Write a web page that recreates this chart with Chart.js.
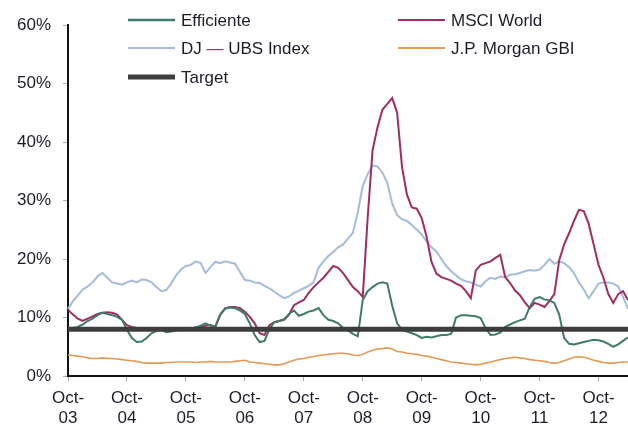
<!DOCTYPE html>
<html>
<head>
<meta charset="utf-8">
<script src="https://cdn.jsdelivr.net/npm/chart.js@4.4.1/dist/chart.umd.min.js"></script>
<style>
  body { margin: 0; background: #fff; }
  #wrap { width: 628px; height: 427px; position: relative; }
</style>
</head>
<body>
<div id="wrap"><canvas id="chart"></canvas></div>
<script>
// monthly observations, Oct-03 .. Apr-13
const START_YEAR = 2003;
const MONTHS = ['Oct', 'Nov', 'Dec', 'Jan', 'Feb', 'Mar', 'Apr', 'May', 'Jun', 'Jul', 'Aug', 'Sep'];
const TICK_YEARS = ['03', '04', '05', '06', '07', '08', '09', '10', '11', '12'];

const efficiente = [
  8.0, 8.2, 8.4, 8.8, 9.4, 9.8, 10.4, 10.8, 10.6, 10.4, 10.1, 9.6,
  7.9, 6.5, 5.8, 5.9, 6.5, 7.3, 7.7, 7.9, 7.5, 7.6, 7.8, 7.9,
  8.0, 8.1, 8.3, 8.6, 9.0, 8.6, 8.5, 10.5, 11.6, 11.7, 11.6, 11.2,
  10.6, 9.0, 7.0, 5.8, 6.0, 8.0, 9.2, 9.4, 9.7, 10.6, 11.2, 10.3,
  10.6, 11.0, 11.2, 11.6, 10.4, 9.6, 9.4, 9.0, 8.2, 7.8, 7.2, 6.8,
  13.0, 14.5, 15.2, 15.8, 16.0, 15.8, 12.0, 9.0, 7.9, 7.6, 7.3, 7.0,
  6.5, 6.7, 6.6, 6.8, 7.0, 7.0, 7.2, 10.0, 10.4, 10.4, 10.3, 10.2,
  9.9, 8.2, 7.0, 7.1, 7.4, 8.4, 8.8, 9.2, 9.5, 9.8, 11.8, 13.2,
  13.5, 13.1, 12.9, 12.5, 10.5, 6.5, 5.5, 5.4, 5.6, 5.8, 6.0, 6.2,
  6.1, 5.9, 5.5, 5.0, 5.4, 6.0, 6.6
];

const msciWorld = [
  11.3, 10.5, 9.8, 9.4, 9.8, 10.2, 10.6, 10.8, 10.9, 10.8, 10.5, 9.6,
  8.7, 8.4, 8.2, 8.0, 8.1, 8.0, 7.9, 8.0, 7.9, 8.0, 8.0, 8.1,
  8.0, 8.1, 8.3, 8.4, 8.6, 8.7, 8.4, 10.5, 11.5, 11.8, 11.8, 11.6,
  11.0, 10.1, 9.0, 7.3, 7.0, 8.7, 9.2, 9.4, 9.6, 10.5, 12.1, 12.6,
  13.0, 14.2, 15.2, 16.0, 16.8, 17.8, 18.8, 18.5, 17.6, 16.4, 15.2, 14.5,
  13.5, 27.0, 38.6, 42.5, 45.5, 46.5, 47.5, 45.0, 35.7, 31.0, 28.8, 28.6,
  27.0, 23.8, 19.5, 17.5, 16.9, 16.6, 16.3, 15.8, 15.4, 14.5, 13.3, 18.0,
  19.0, 19.3, 19.6, 20.2, 20.7, 16.9, 15.9, 14.6, 13.8, 12.6, 11.6, 12.5,
  12.2, 11.8, 12.8, 14.0, 19.8, 22.5, 24.4, 26.5, 28.4, 28.2, 26.0, 22.5,
  19.0, 16.8, 14.0, 12.5, 14.0, 14.5, 13.0
];

const djUbs = [
  11.5, 12.8, 13.8, 14.8, 15.3, 16.0, 17.0, 17.6, 16.8, 16.0, 15.8, 15.6,
  16.0, 16.3, 16.0, 16.5, 16.4, 16.0, 15.2, 14.5, 14.7, 15.8, 17.2, 18.2,
  18.8, 19.0, 19.6, 19.3, 17.6, 18.6, 19.5, 19.3, 19.6, 19.4, 19.2, 17.8,
  16.4, 16.3, 16.0, 15.9, 15.4, 15.0, 14.4, 13.8, 13.3, 13.6, 14.2, 14.6,
  15.0, 15.4, 16.0, 18.5, 19.6, 20.5, 21.2, 22.0, 22.5, 23.5, 24.5, 28.0,
  32.5, 34.5, 36.0, 35.8, 34.8, 33.0, 29.5, 27.5, 26.8, 26.5, 25.8, 25.0,
  24.2, 23.0, 22.0, 21.3, 20.0, 18.8, 17.9, 17.2, 16.5, 16.2, 16.0, 15.6,
  15.3, 16.2, 16.8, 16.6, 17.0, 16.9, 17.3, 17.4, 17.6, 17.9, 18.1, 18.0,
  18.2, 19.0, 20.0, 19.2, 19.6, 19.3, 18.6, 17.6, 16.0, 14.8, 13.3, 14.5,
  15.8, 16.0, 16.0, 15.8, 15.3, 13.5, 11.5
];

const jpMorganGbi = [
  3.6, 3.5, 3.4, 3.3, 3.1, 3.0, 3.0, 3.1, 3.0, 3.0, 2.9, 2.8,
  2.7, 2.6, 2.5, 2.3, 2.2, 2.2, 2.2, 2.2, 2.3, 2.3, 2.4, 2.4,
  2.4, 2.4, 2.3, 2.4, 2.4, 2.5, 2.4, 2.4, 2.4, 2.4, 2.5, 2.6,
  2.7, 2.4, 2.3, 2.2, 2.1, 2.0, 1.9, 1.9, 2.1, 2.4, 2.7, 2.9,
  3.0, 3.2, 3.3, 3.5, 3.6, 3.7, 3.8, 3.9, 3.9, 3.8, 3.6, 3.5,
  3.7, 4.1, 4.4, 4.6, 4.7, 4.8, 4.6, 4.2, 4.1, 3.9, 3.8, 3.7,
  3.5, 3.4, 3.2, 3.0, 2.8, 2.6, 2.4, 2.3, 2.2, 2.1, 2.0, 1.9,
  2.0, 2.2, 2.4, 2.6, 2.8, 3.0, 3.1, 3.2, 3.1, 3.0, 2.8, 2.7,
  2.6, 2.5, 2.3, 2.2, 2.3, 2.6, 2.9, 3.2, 3.3, 3.2, 3.0, 2.7,
  2.5, 2.3, 2.2, 2.2, 2.3, 2.4, 2.4
];

const TARGET = 8;

const labels = efficiente.map((_, i) => {
  const yr = START_YEAR + Math.floor((i + 9) / 12);
  return MONTHS[i % 12] + '-' + String(yr).slice(2);
});

const FONT = { family: '"Liberation Sans", Arial, sans-serif', size: 17 };
const TEXT = '#1c1c28';

// legend drawn in two columns inside the plot, like the original
const legendSlots = [
  { x: 128, y: 20 }, { x: 398, y: 20 },
  { x: 128, y: 48 }, { x: 398, y: 48 },
  { x: 128, y: 77 }
];

const cornerLegend = {
  id: 'cornerLegend',
  afterDraw(chart) {
    const ctx = chart.ctx;
    ctx.save();
    ctx.font = `${FONT.size}px ${FONT.family}`;
    ctx.textBaseline = 'middle';
    chart.data.datasets.forEach((ds, i) => {
      const s = legendSlots[ds.legendSlot];
      ctx.strokeStyle = ds.borderColor;
      ctx.lineWidth = ds.legendWidth;
      ctx.beginPath();
      ctx.moveTo(s.x, s.y);
      ctx.lineTo(s.x + 47, s.y);
      ctx.stroke();
      let tx = s.x + 53;
      const parts = ds.label.split(/(—)/);
      parts.forEach(p => {
        ctx.fillStyle = p === '—' ? '#9e2a5c' : TEXT;
        ctx.fillText(p, tx, s.y + 1);
        tx += ctx.measureText(p).width;
      });
    });
    ctx.restore();
  }
};

new Chart(document.getElementById('chart'), {
  type: 'line',
  data: {
    labels: labels,
    datasets: [
      { label: 'Efficiente', data: efficiente, borderColor: '#3f7a6a', borderWidth: 2, order: 1, legendSlot: 0, legendWidth: 2.5 },
      { label: 'MSCI World', data: msciWorld, borderColor: '#a02d60', borderWidth: 2, order: 2, legendSlot: 1, legendWidth: 2 },
      { label: 'DJ — UBS Index', data: djUbs, borderColor: '#a5bbda', borderWidth: 2, order: 4, legendSlot: 2, legendWidth: 2 },
      { label: 'J.P. Morgan GBI', data: jpMorganGbi, borderColor: '#e39a55', borderWidth: 1.6, order: 3, legendSlot: 3, legendWidth: 2 },
      { label: 'Target', data: labels.map(() => TARGET), borderColor: '#3d3d3d', borderWidth: 5, order: 0, legendSlot: 4, legendWidth: 5 }
    ]
  },
  options: {
    animation: false,
    responsive: true,
    maintainAspectRatio: false,
    layout: { padding: { top: 25, right: 0, left: 0, bottom: 0 } },
    elements: {
      point: { radius: 0 },
      line: { tension: 0, borderCapStyle: 'butt' }
    },
    plugins: {
      legend: { display: false },
      tooltip: { enabled: false }
    },
    scales: {
      x: {
        type: 'category',
        offset: false,
        border: { color: '#111', width: 2 },
        grid: { drawOnChartArea: false, drawTicks: true, tickLength: 5, color: '#aaa' },
        ticks: {
          autoSkip: false,
          maxRotation: 0,
          padding: 7,
          font: FONT,
          color: TEXT,
          callback: (v, i) => i % 12 === 0 ? ['Oct-', TICK_YEARS[i / 12]] : null
        },
        afterFit(s) { s.height = 51; }
      },
      y: {
        min: 0,
        max: 60,
        border: { color: '#111', width: 2 },
        grid: { drawOnChartArea: false, drawTicks: true, tickLength: 5, color: '#aaa' },
        ticks: {
          stepSize: 10,
          padding: 12,
          font: FONT,
          color: TEXT,
          callback: v => v + '%'
        },
        afterFit(s) { s.width = 68; }
      }
    }
  },
  plugins: [cornerLegend]
});
</script>
</body>
</html>
